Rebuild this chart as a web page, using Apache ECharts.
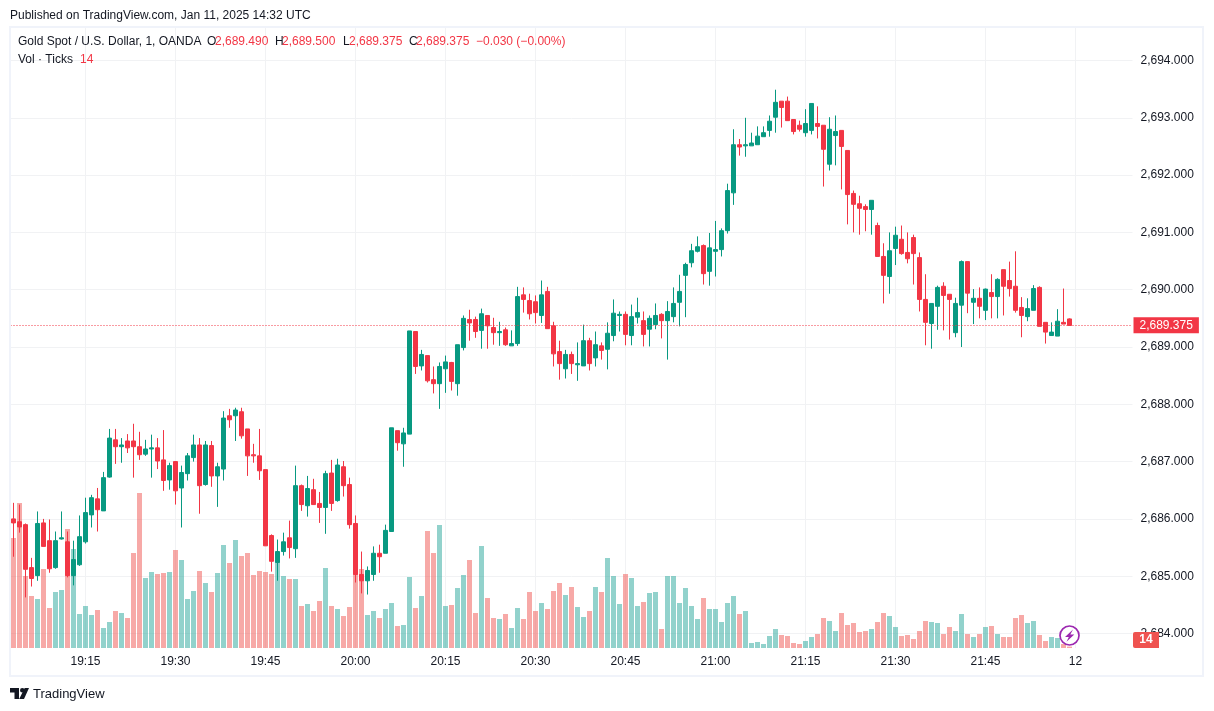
<!DOCTYPE html>
<html>
<head>
<meta charset="utf-8">
<script src="https://cdn.jsdelivr.net/npm/echarts@6/dist/echarts.min.js"></script>
<style>html,body{margin:0;padding:0;background:#fff}#c{width:1214px;height:711px}</style>
</head>
<body>
<div id="c"></div>
<script>
const opens = [
2686.00,2685.95,2685.90,2685.15,2685.01,2685.93,2685.62,2685.15,2685.65,2685.60,
2685.01,2685.20,2685.60,2686.07,2686.35,2686.14,2686.73,2687.38,2687.26,2687.36,
2687.36,2687.26,2687.13,2687.22,2687.24,2687.03,2686.68,2687.00,2686.54,2686.79,
2687.07,2687.29,2686.60,2687.28,2686.75,2686.87,2687.80,2687.80,2687.87,2687.57,
2687.12,2687.10,2686.86,2685.71,2685.24,2685.43,2685.67,2685.48,2686.58,2686.23,
2686.51,2686.27,2686.20,2686.80,2686.32,2686.91,2686.60,2685.92,2685.03,2684.92,
2685.03,2685.40,2685.40,2685.78,2687.54,2687.31,2687.48,2689.27,2688.67,2688.85,
2688.43,2688.36,2688.62,2688.73,2688.36,2688.99,2689.48,2689.48,2689.29,2689.55,
2689.34,2689.25,2689.30,2689.02,2689.06,2689.91,2689.81,2689.79,2689.55,2689.97,
2689.37,2688.92,2688.62,2688.87,2688.69,2688.67,2689.11,2688.81,2689.02,2688.96,
2689.20,2689.55,2689.57,2689.20,2689.52,2689.46,2689.31,2689.39,2689.57,2689.46,
2689.53,2689.78,2690.25,2690.47,2690.67,2690.77,2690.32,2690.67,2690.70,2691.03,
2691.69,2692.53,2692.51,2692.51,2692.53,2692.67,2692.78,2693.01,2693.29,2693.29,
2692.97,2692.87,2692.74,2692.78,2692.90,2692.87,2692.19,2692.69,2692.78,2692.43,
2691.68,2691.50,2691.45,2691.40,2691.12,2690.58,2690.23,2690.72,2690.88,2690.65,
2690.91,2690.56,2689.83,2689.41,2689.71,2690.06,2689.92,2689.25,2689.73,2690.49,
2689.78,2689.85,2689.64,2689.95,2689.88,2690.35,2690.16,2690.06,2689.69,2689.53,
2689.64,2690.04,2689.43,2689.20,2689.19,2689.43,2689.49];
const closes = [
2685.93,2685.86,2685.12,2684.96,2685.92,2685.52,2685.13,2685.62,2685.67,2685.01,
2685.29,2685.69,2686.11,2686.37,2686.16,2686.72,2687.41,2687.26,2687.29,2687.24,
2687.26,2687.12,2687.22,2687.24,2687.01,2686.67,2686.93,2686.49,2686.81,2687.10,
2687.29,2686.58,2687.29,2686.75,2686.91,2687.76,2687.73,2687.90,2687.45,2687.10,
2687.10,2686.84,2685.53,2685.26,2685.43,2685.60,2685.50,2686.58,2686.25,2686.53,
2686.25,2686.20,2686.79,2686.27,2686.94,2686.58,2685.90,2685.03,2684.92,2685.10,
2685.40,2685.34,2685.80,2687.59,2687.33,2687.50,2689.28,2688.66,2688.87,2688.41,
2688.36,2688.66,2688.74,2688.40,2689.04,2689.50,2689.42,2689.27,2689.58,2689.37,
2689.25,2689.27,2689.04,2689.06,2689.88,2689.83,2689.58,2689.60,2689.91,2689.32,
2688.88,2688.71,2688.87,2688.71,2688.71,2689.11,2688.71,2689.04,2688.94,2689.24,
2689.59,2689.57,2689.22,2689.53,2689.60,2689.22,2689.50,2689.55,2689.46,2689.62,
2689.76,2689.97,2690.44,2690.68,2690.75,2690.28,2690.73,2690.70,2691.03,2691.73,
2692.53,2692.49,2692.53,2692.56,2692.68,2692.74,2692.94,2693.27,2693.18,2692.95,
2692.76,2692.80,2692.90,2693.25,2692.85,2692.45,2692.80,2692.76,2692.50,2691.66,
2691.49,2691.42,2691.40,2691.56,2690.58,2690.25,2690.68,2690.95,2690.63,2690.54,
2690.63,2689.83,2689.43,2689.76,2690.04,2689.90,2689.83,2689.76,2690.49,2689.94,
2689.85,2689.71,2690.01,2689.88,2690.18,2690.06,2690.02,2689.64,2689.55,2689.67,
2690.02,2689.36,2689.26,2689.26,2689.45,2689.40,2689.375];
const highs = [
2686.28,2686.25,2685.92,2685.32,2686.13,2686.00,2685.99,2685.78,2686.13,2685.78,
2685.62,2686.06,2686.37,2686.42,2686.54,2686.82,2687.57,2687.57,2687.41,2687.48,
2687.66,2687.52,2687.38,2687.47,2687.41,2687.55,2686.98,2687.01,2686.93,2687.15,
2687.47,2687.41,2687.36,2687.36,2686.98,2687.88,2687.92,2687.94,2687.94,2687.57,
2687.31,2687.57,2686.86,2685.73,2685.64,2685.76,2685.97,2686.93,2686.60,2686.75,
2686.70,2686.47,2686.84,2687.03,2687.05,2687.01,2686.72,2686.06,2685.43,2685.17,
2685.52,2685.55,2685.90,2687.59,2687.54,2687.59,2689.28,2689.27,2688.95,2688.85,
2688.66,2688.73,2688.85,2688.74,2689.04,2689.55,2689.65,2689.53,2689.67,2689.55,
2689.51,2689.44,2689.34,2689.29,2690.05,2690.04,2689.93,2689.90,2690.16,2690.05,
2689.44,2689.11,2688.95,2688.92,2689.08,2689.39,2689.16,2689.27,2689.08,2689.43,
2689.83,2689.62,2689.62,2689.74,2689.86,2689.62,2689.55,2689.76,2689.59,2689.80,
2690.04,2690.26,2690.47,2690.80,2690.93,2690.79,2690.99,2691.20,2691.07,2691.85,
2692.80,2692.63,2693.00,2692.74,2692.85,2692.85,2693.04,2693.49,2693.29,2693.37,
2692.97,2692.95,2693.15,2693.25,2693.20,2692.87,2693.01,2693.04,2692.78,2692.43,
2691.73,2691.64,2691.49,2691.56,2691.17,2690.81,2691.00,2691.10,2691.12,2691.00,
2690.96,2690.65,2690.27,2689.76,2690.07,2690.13,2689.92,2689.86,2690.51,2690.49,
2690.01,2690.04,2690.02,2690.27,2690.20,2690.35,2690.49,2690.67,2689.87,2689.85,
2690.08,2690.06,2689.43,2689.43,2689.66,2690.02,2689.50];
const lows = [
2685.34,2685.76,2684.63,2684.82,2684.92,2685.52,2685.06,2685.13,2685.64,2684.98,
2684.84,2685.18,2685.57,2685.85,2685.78,2686.14,2686.72,2686.96,2686.98,2687.15,
2686.72,2687.03,2687.10,2686.72,2686.87,2686.49,2686.51,2686.25,2685.85,2686.67,
2687.00,2686.09,2686.58,2686.56,2686.21,2686.67,2687.59,2687.36,2687.40,2686.75,
2686.98,2686.68,2685.53,2685.08,2684.92,2685.36,2685.31,2685.32,2686.14,2686.04,
2686.25,2685.93,2685.74,2686.14,2686.30,2686.39,2685.83,2684.89,2684.70,2684.68,
2684.92,2685.06,2685.40,2685.78,2687.19,2686.91,2687.48,2688.53,2688.59,2688.38,
2688.19,2687.92,2688.20,2688.24,2688.15,2688.94,2689.11,2689.16,2688.97,2688.97,
2689.04,2689.02,2689.02,2689.02,2689.02,2689.60,2689.48,2689.41,2689.42,2689.32,
2688.66,2688.43,2688.45,2688.53,2688.41,2688.67,2688.59,2688.66,2688.78,2688.61,
2689.10,2689.27,2689.03,2689.03,2689.41,2689.01,2689.01,2689.31,2689.15,2688.78,
2689.43,2689.36,2689.52,2690.39,2690.65,2690.09,2690.07,2690.23,2690.58,2690.98,
2691.48,2692.34,2692.32,2692.51,2692.53,2692.67,2692.67,2692.74,2692.83,2692.95,
2692.71,2692.76,2692.67,2692.71,2692.64,2691.80,2692.08,2692.17,2691.75,2691.14,
2691.00,2690.96,2691.02,2690.96,2690.58,2689.76,2689.93,2690.43,2690.61,2690.46,
2690.09,2689.62,2689.03,2688.97,2689.30,2689.29,2689.13,2689.17,2689.00,2689.59,
2689.40,2689.50,2689.47,2689.50,2689.50,2689.55,2689.88,2689.60,2689.17,2689.45,
2689.64,2689.36,2689.06,2689.20,2689.19,2689.40,2689.375];
const volumes = [
1100,1450,720,520,490,790,400,560,580,1190,
990,340,420,330,380,200,260,370,350,300,
950,1550,700,760,740,750,760,980,880,490,
570,770,650,560,750,1030,850,1080,920,950,
730,770,760,740,860,720,690,690,420,440,
370,470,800,420,390,320,410,740,790,330,
370,300,390,450,220,230,710,400,520,1170,
950,1230,420,430,600,730,880,350,1020,500,
300,290,340,200,400,290,560,370,450,390,
570,650,530,610,410,310,370,610,560,900,
720,440,740,700,420,460,550,560,190,720,
720,450,600,420,290,500,390,390,260,450,
520,340,370,50,60,40,120,190,130,120,
50,40,70,110,140,300,270,170,350,230,
250,160,170,190,260,350,320,210,120,130,
90,170,270,260,250,140,210,170,340,140,
110,140,210,220,140,110,110,300,330,250,
270,130,70,110,100,40,14];
const firstMinute = 19 * 60 + 3;     // 19:03, first candle
const slotCount = 187;               // candles plus empty space to the right
const priceTicks = [2684,2685,2686,2687,2688,2689,2690,2691,2692,2693,2694];
const lastClose = 2689.375;

const pad = n => String(n).padStart(2, '0');
const categories = Array.from({length: slotCount}, (_, i) => {
  const m = firstMinute + i;
  return pad(Math.floor(m / 60)) + ':' + pad(m % 60);
});
const isTimeTick = (idx) => (firstMinute + idx) % 15 === 0 && (firstMinute + idx) <= 22 * 60;
const candleData = opens.map((o, i) => [o, closes[i], lows[i], highs[i]]);
const UP = '#089981', DOWN = '#F23645', INK = '#131722', GRID = '#f1f2f4', FRAME = '#F0F3FA';
const FONT = '"Liberation Sans", sans-serif';
const volumeData = volumes.map((v, i) => ({
  value: v,
  itemStyle: {color: closes[i] >= opens[i] ? 'rgba(38,166,154,0.5)' : 'rgba(239,83,80,0.5)'}
}));

const txt = (x, y, text, fill, size) => ({
  type: 'text', x, y, z: 50, silent: true,
  style: {text, fill, font: (size || 12) + 'px ' + FONT, verticalAlign: 'middle'}
});

const chart = echarts.init(document.getElementById('c'), null, {renderer: 'canvas'});
chart.setOption({
  animation: false,
  backgroundColor: '#fff',
  grid: {left: 10.5, top: 28, width: 1122, height: 620, containLabel: false},
  xAxis: {
    type: 'category', data: categories, boundaryGap: true,
    axisLine: {show: false}, axisTick: {show: false},
    axisLabel: {
      interval: (idx) => isTimeTick(idx),
      formatter: (v) => v === '22:00' ? '12' : v,
      color: INK, fontSize: 12, fontFamily: FONT, margin: 8,
      fontWeight: 'normal', hideOverlap: false
    },
    splitLine: {show: true, interval: (idx) => isTimeTick(idx), alignWithLabel: true, lineStyle: {color: GRID, width: 1}}
  },
  yAxis: [{
    type: 'value', position: 'right', min: 2683.747, max: 2694.567, scale: true,
    axisLine: {show: false},
    axisTick: {show: false, customValues: priceTicks},
    axisLabel: {
      customValues: priceTicks, color: INK, fontSize: 12, fontFamily: FONT, margin: 8,
      formatter: (v) => '2,' + String(Math.round(v - 2000)) + '.000'
    },
    splitLine: {show: true, lineStyle: {color: GRID, width: 1}}
  }, {
    type: 'value', min: 0, max: 6200, show: false, splitLine: {show: false}
  }],
  series: [{
    type: 'bar', name: 'Vol', yAxisIndex: 1, data: volumeData, barWidth: 5, z: 2, silent: true
  }, {
    type: 'candlestick', name: 'XAUUSD', data: candleData, barWidth: 4, z: 3, silent: true,
    itemStyle: {color: UP, color0: DOWN, borderColor: UP, borderColor0: DOWN, borderWidth: 1},
    markLine: {
      silent: true, symbol: 'none', animation: false,
      lineStyle: {color: DOWN, type: [1, 2], width: 1},
      label: {
        show: true, position: 'end', distance: 1, formatter: () => '2,689.375',
        color: '#fff', backgroundColor: DOWN, fontSize: 12, fontFamily: FONT,
        padding: [2, 6, 2, 6]
      },
      data: [{yAxis: lastClose}]
    }
  }],
  graphic: [
    {type: 'rect', z: 40, silent: true, shape: {x: 10, y: 27, width: 1193, height: 649},
     style: {fill: 'none', stroke: FRAME, lineWidth: 2}},
    txt(10, 16, 'Published on TradingView.com, Jan 11, 2025 14:32 UTC', INK),
    txt(18, 42, 'Gold Spot / U.S. Dollar, 1, OANDA', INK),
    txt(207, 42, 'O', INK), txt(215, 42, '2,689.490', DOWN),
    txt(275, 42, 'H', INK), txt(282, 42, '2,689.500', DOWN),
    txt(343, 42, 'L', INK), txt(349, 42, '2,689.375', DOWN),
    txt(409, 42, 'C', INK), txt(416, 42, '2,689.375', DOWN),
    txt(476, 42, '\u22120.030 (\u22120.00%)', DOWN),
    txt(18, 60, 'Vol \u00b7 Ticks', INK), txt(80, 60, '14', DOWN),
    {type: 'rect', z: 45, silent: true, shape: {x: 1133, y: 632, width: 26, height: 16, r: [2, 0, 0, 2]}, style: {fill: '#EF5350'}},
    {type: 'text', z: 46, silent: true, x: 1146, y: 640, style: {text: '14', fill: '#fff', font: 'bold 12px ' + FONT, align: 'center', verticalAlign: 'middle'}},
    {type: 'circle', z: 45, silent: true, shape: {cx: 1069.5, cy: 635.5, r: 9.5}, style: {fill: '#fff', stroke: '#9C27B0', lineWidth: 1.7}},
    {type: 'polygon', z: 46, silent: true, shape: {points: [[1073, 629.5], [1065, 637], [1068.8, 637], [1066.5, 641.7], [1074.3, 634.5], [1070.3, 634.5]]}, style: {fill: '#9C27B0'}},
    {type: 'polygon', z: 50, silent: true, shape: {points: [[10, 688], [19, 688], [19, 699], [14.5, 699], [14.5, 692.5], [10, 692.5]]}, style: {fill: INK}},
    {type: 'circle', z: 50, silent: true, shape: {cx: 22.3, cy: 690.3, r: 2.3}, style: {fill: INK}},
    {type: 'polygon', z: 50, silent: true, shape: {points: [[24, 699], [19.2, 699], [24.7, 688], [29, 688]]}, style: {fill: INK}},
    txt(33, 694, 'TradingView', INK, 13)
  ]
});
</script>
</body>
</html>
